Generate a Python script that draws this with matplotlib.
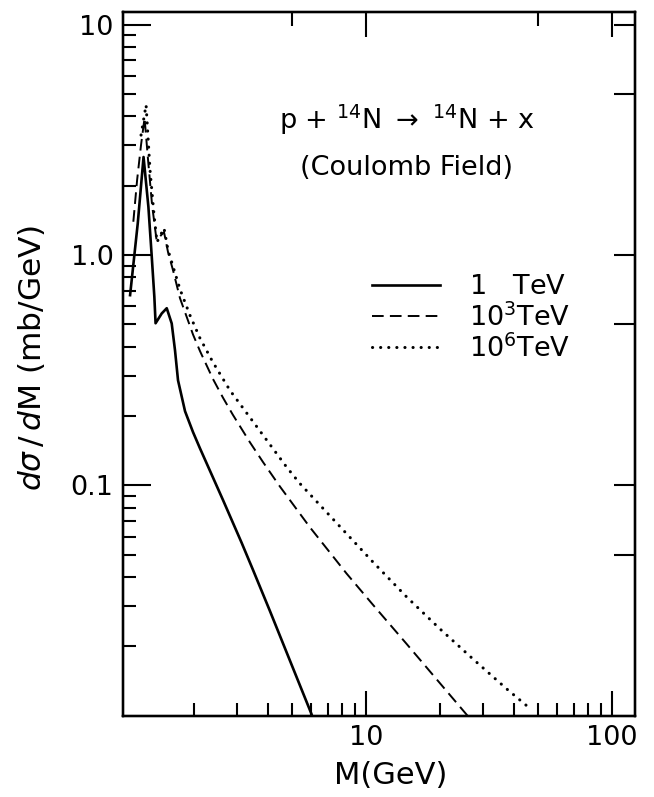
import matplotlib
matplotlib.use('Agg')
import matplotlib.pyplot as plt
from matplotlib.ticker import FixedLocator, NullFormatter, NullLocator, FixedFormatter

# ---------------- data ----------------
m_1tev = [1.103, 1.185, 1.251, 1.309, 1.351, 1.384, 1.400, 1.483, 1.554, 1.628,
          1.679, 1.727, 1.844, 1.987, 2.121, 2.394, 2.629, 3.13, 3.478, 4.076,
          4.914, 6.018]
sig_1tev = [0.670, 1.373, 2.667, 1.622, 0.983, 0.659, 0.506, 0.558, 0.588, 0.505,
            0.386, 0.286, 0.210, 0.1704, 0.1448, 0.1083, 0.0865, 0.0564, 0.0431, 0.02856,
            0.0174, 0.01017]

m_1e3tev = [1.137, 1.178, 1.222, 1.263, 1.305, 1.355, 1.413, 1.515, 1.573, 1.648,
            1.759, 1.878, 1.987, 2.121, 2.394, 2.629, 2.886, 3.382, 3.818, 4.476,
            5.923, 8.344, 10.67, 14.65, 19.94, 25.9]
sig_1e3tev = [1.396, 2.12, 3.01, 3.94, 2.59, 1.65, 1.162, 1.259, 1.03, 0.86,
              0.65, 0.535, 0.452, 0.383, 0.290, 0.2405, 0.2024, 0.154, 0.1266, 0.099,
              0.0659, 0.0415, 0.0304, 0.0205, 0.0139, 0.0100]

m_1e6tev = [1.222, 1.281, 1.329, 1.380, 1.419, 1.515, 1.573, 1.759, 1.931, 2.121,
            2.394, 2.806, 3.289, 3.963, 4.777, 5.395, 8.344, 10.67, 14.65, 19.94,
            27.14, 37.27, 46.2]
sig_1e6tev = [3.32, 4.49, 2.343, 1.493, 1.139, 1.310, 1.051, 0.711, 0.548, 0.4356,
              0.3425, 0.2588, 0.2056, 0.157, 0.1198, 0.102, 0.0618, 0.0466, 0.0328, 0.0239,
              0.0177, 0.0131, 0.0108]

series_labels = [r'1$\quad$TeV', r'10$^3$TeV', r'10$^6$TeV']
ytick_vals = [0.1, 1.0, 10]
ytick_labels = ['0.1', '1.0', '10']
xtick_vals = [10, 100]
xtick_labels = ['10', '100']
right_ticks = [0.05, 0.1, 0.5, 1, 5, 10]
top_ticks_major = [10, 100]
top_ticks_minor = [5, 50]
title_line1 = r'p + $^{14}$N $\rightarrow$ $^{14}$N + x'
title_line2 = '(Coulomb Field)'
xlabel = 'M(GeV)'
ylabel = r'$d\sigma\,/\,d$M (mb/GeV)'

# ---------------- style ----------------
plt.rcParams['font.family'] = ['DejaVu Sans']
plt.rcParams['mathtext.fontset'] = 'dejavusans'
FS = 19.5

fig = plt.figure(figsize=(6.54, 7.97), dpi=100)
ax = fig.add_axes([0.1885, 0.102, 0.7824, 0.8833])
ax.set_xscale('log')
ax.set_yscale('log')
ax.set_xlim(1.035, 124)
ax.set_ylim(0.01, 11.4)

l1, = ax.plot(m_1tev, sig_1tev, color='black', lw=1.9, solid_joinstyle='round')
l2, = ax.plot(m_1e3tev, sig_1e3tev, color='black', lw=1.4, dashes=(6, 3.2))
l3, = ax.plot(m_1e6tev, sig_1e6tev, color='black', lw=2.2, dashes=(0.05, 2.6),
              dash_capstyle='round')

for sp in ax.spines.values():
    sp.set_linewidth(1.6)

# left / bottom ticks
ax.yaxis.set_major_locator(FixedLocator(ytick_vals))
ax.yaxis.set_major_formatter(FixedFormatter(ytick_labels))
ax.yaxis.set_minor_locator(FixedLocator(
    [k * 10.0 ** e for e in (-2, -1, 0) for k in range(2, 10)]))
ax.yaxis.set_minor_formatter(NullFormatter())
ax.xaxis.set_major_locator(FixedLocator(xtick_vals))
ax.xaxis.set_major_formatter(FixedFormatter(xtick_labels))
ax.xaxis.set_minor_locator(FixedLocator(
    [k * 10.0 ** e for e in (0, 1) for k in range(2, 10)]))
ax.xaxis.set_minor_formatter(NullFormatter())
ax.tick_params(axis='y', which='major', direction='in', length=20, width=1.5,
               labelsize=FS, pad=7, right=False)
ax.tick_params(axis='y', which='minor', direction='in', length=9.5, width=1.5, right=False)
ax.tick_params(axis='x', which='major', direction='in', length=18, width=1.5,
               labelsize=FS, pad=7, top=False)
ax.tick_params(axis='x', which='minor', direction='in', length=9.5, width=1.5, top=False)

# top ticks
axt = ax.twiny()
axt.set_xscale('log')
axt.set_xlim(ax.get_xlim())
axt.xaxis.set_major_locator(FixedLocator(top_ticks_major))
axt.xaxis.set_minor_locator(FixedLocator(top_ticks_minor))
axt.xaxis.set_major_formatter(NullFormatter())
axt.xaxis.set_minor_formatter(NullFormatter())
axt.tick_params(axis='x', which='major', direction='in', length=18, width=1.5)
axt.tick_params(axis='x', which='minor', direction='in', length=10, width=1.5)

# right ticks
axr = ax.twinx()
axr.set_yscale('log')
axr.set_ylim(ax.get_ylim())
axr.yaxis.set_major_locator(FixedLocator(right_ticks))
axr.yaxis.set_minor_locator(NullLocator())
axr.yaxis.set_major_formatter(NullFormatter())
axr.tick_params(axis='y', which='major', direction='in', length=15, width=1.5)
for a in (axt, axr):
    for sp in a.spines.values():
        sp.set_linewidth(1.6)

ax.set_xlabel(xlabel, fontsize=22)
ax.xaxis.set_label_coords(0.523, -0.064)
ax.set_ylabel(ylabel, fontsize=22.5)
ax.yaxis.set_label_coords(-0.15, 0.508)

ax.text(0.554, 0.846, title_line1, transform=ax.transAxes, ha='center', va='center',
        fontsize=FS)
ax.text(0.554, 0.778, title_line2, transform=ax.transAxes, ha='center', va='center',
        fontsize=FS)

leg = axr.legend([l1, l2, l3], series_labels, loc='upper left',
                 bbox_to_anchor=(0.486, 0.627), frameon=False, fontsize=FS,
                 handlelength=2.5, handletextpad=1.1, labelspacing=0.1,
                 borderpad=0, borderaxespad=0)

fig.savefig('out.png', dpi=100)
